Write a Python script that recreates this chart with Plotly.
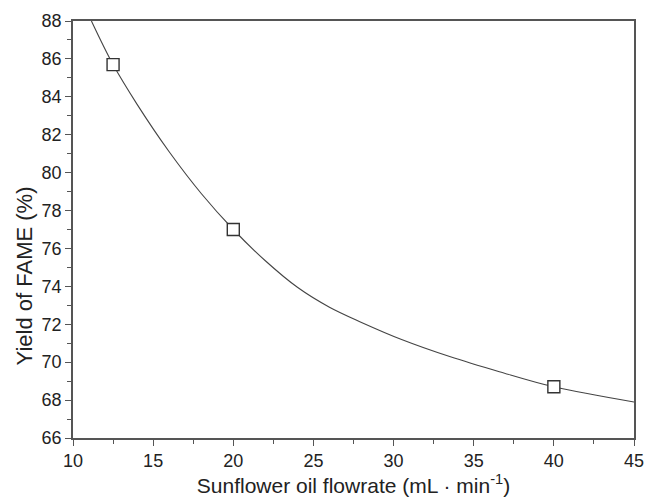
import plotly.graph_objects as go

# measured data points
flow_pts = [12.5, 20.0, 40.0]
yield_pts = [85.7, 77.0, 68.7]

# fitted curve
curve_x = [11.15, 12.5, 14.0, 16.0, 18.0, 20.0, 22.0, 24.0, 26.0, 28.0, 30.5, 33.5, 36.6, 40.0, 45.0]
curve_y = [88.0, 85.7, 83.6, 81.1, 78.9, 77.0, 75.35, 73.95, 72.9, 72.1, 71.2, 70.3, 69.5, 68.7, 67.9]

x_ticks = [10, 15, 20, 25, 30, 35, 40, 45]
y_ticks = [66, 68, 70, 72, 74, 76, 78, 80, 82, 84, 86, 88]

x_title = "Sunflower oil flowrate (mL · min<sup>-1</sup>)"
y_title = "Yield of FAME (%)"

font = "Liberation Sans, Arial, sans-serif"
axcol = "#555555"

fig = go.Figure()
fig.add_trace(go.Scatter(x=curve_x, y=curve_y, mode="lines",
                         line=dict(color="#444444", width=1.1, shape="spline", smoothing=1.0),
                         hoverinfo="skip", showlegend=False))
fig.add_trace(go.Scatter(x=flow_pts, y=yield_pts, mode="markers",
                         marker=dict(symbol="square", size=12, color="white", line=dict(color="#333333", width=1.4)),
                         showlegend=False))

fig.update_layout(
    width=647, height=502,
    margin=dict(l=73, r=13, t=21, b=64, autoexpand=False),
    paper_bgcolor="white", plot_bgcolor="white",
    font=dict(family=font, size=18, color="#222222"),
)
fig.update_xaxes(
    range=[10, 45], tickvals=x_ticks, ticks="outside", ticklen=6, tickwidth=1.2, tickcolor=axcol,
    showline=True, linecolor=axcol, linewidth=1.5, mirror=True, showgrid=False, zeroline=False,
    automargin=False,
    minor=dict(dtick=2.5, ticks="outside", ticklen=4, tickcolor=axcol, tickwidth=1.2, showgrid=False),
    title=dict(text=x_title, font=dict(size=21), standoff=6),
)
fig.update_yaxes(
    range=[66, 88], tickvals=y_ticks, ticks="outside", ticklen=6, tickwidth=1.2, tickcolor=axcol,
    showline=True, linecolor=axcol, linewidth=1.5, mirror=True, showgrid=False, zeroline=False,
    automargin=False,
    minor=dict(dtick=1, ticks="outside", ticklen=4, tickcolor=axcol, tickwidth=1.2, showgrid=False),
)
fig.add_annotation(text=y_title, textangle=-90, xref="paper", yref="paper",
                   x=-0.087, y=0.388, xanchor="center", yanchor="middle", showarrow=False,
                   font=dict(size=22, family=font, color="#222222"))

fig.write_html("out.html")
